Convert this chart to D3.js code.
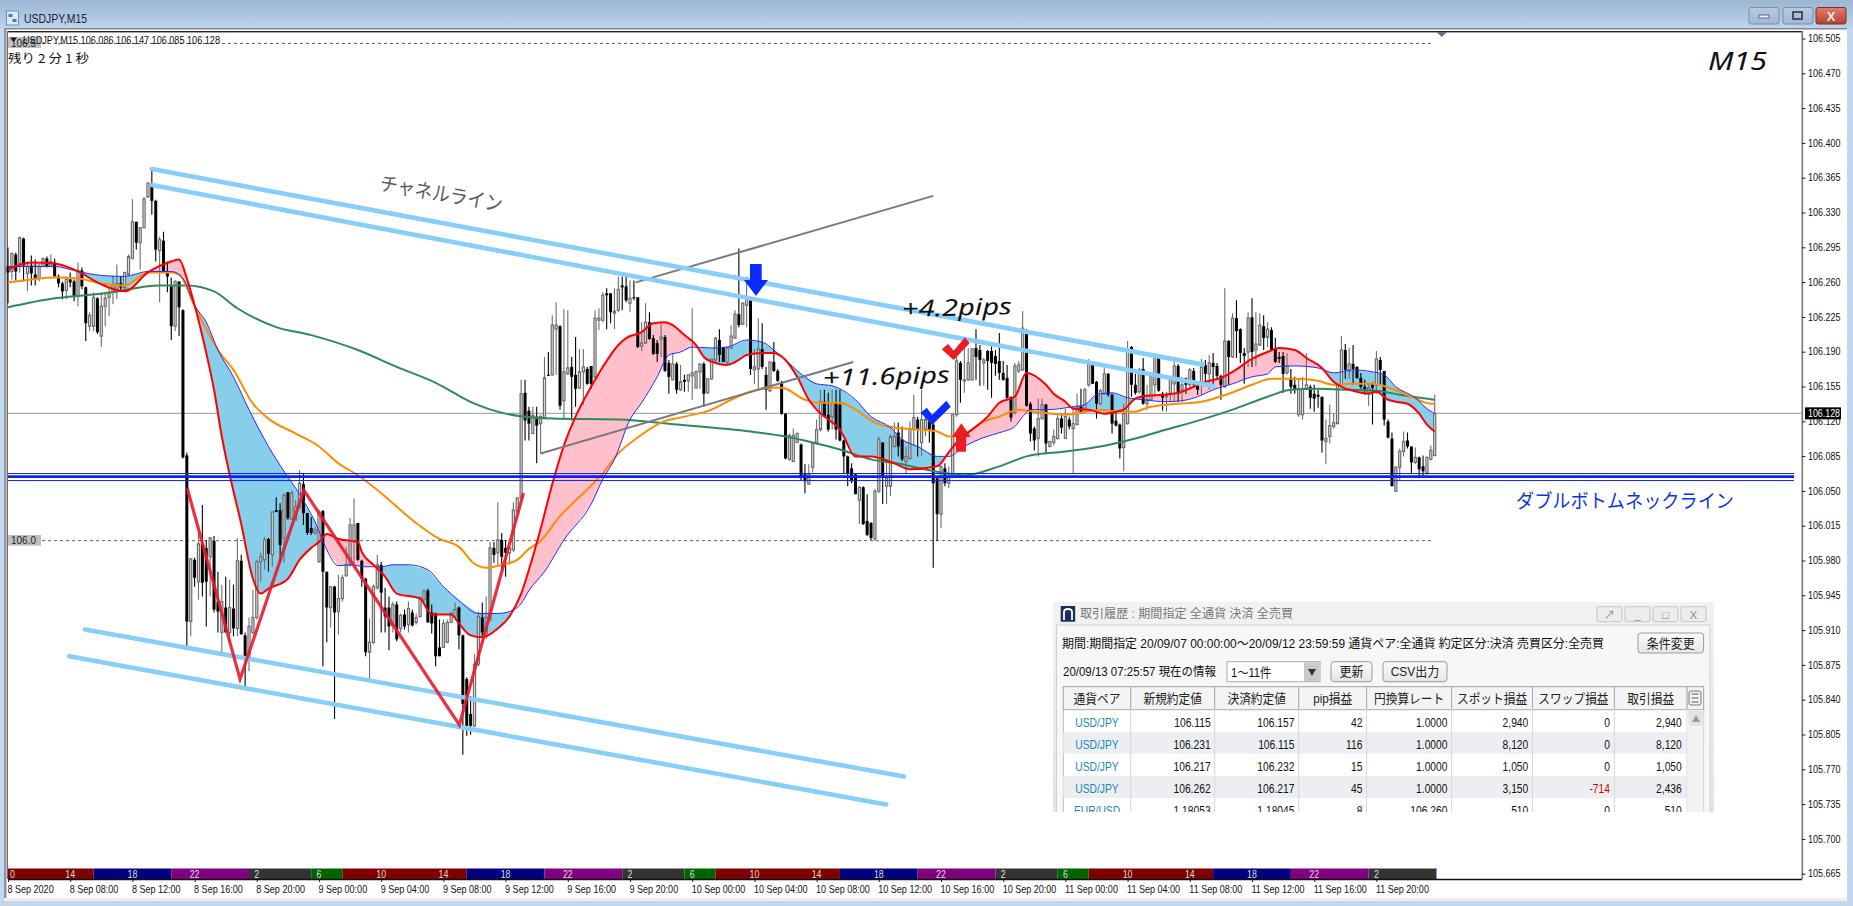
<!DOCTYPE html>
<html><head><meta charset="utf-8">
<script src="https://cdn.jsdelivr.net/npm/d3@7/dist/d3.min.js"></script>
<style>html,body{margin:0;padding:0;background:#fff;overflow:hidden}svg{display:block}text{font-family:"Liberation Sans","Noto Sans CJK JP",sans-serif}</style>
</head><body><svg id="c" width="1853" height="906"></svg>
<script>
// Candle values: thousandths of a yen above 106.000.
const opens=[274,269,286,277,302,267,275,266,262,274,
282,274,278,264,257,250,261,259,244,270,
253,214,214,242,204,234,243,248,251,257,
253,266,282,319,298,313,344,358,340,290,
300,268,254,214,259,230,84,-83,-21,-43,
-5,-9,-18,-2,-63,-94,-69,-94,-70,-90,
-22,-97,-121,-94,-79,-23,-21,0,-16,29,
29,1,47,20,19,32,55,26,11,6,
-23,28,-33,-69,-48,-73,-60,-37,-26,-3,
16,-22,-40,-114,-104,-49,-26,-69,-69,-87,
-66,-90,-76,-86,-74,-84,-78,-61,-52,-74,
-75,-109,-109,-104,-84,-78,-69,-97,-141,-176,
-188,-126,-79,-98,-81,-9,-14,-1,-9,-14,
-11,27,41,147,129,106,123,116,122,165,
165,211,214,139,166,173,165,152,168,171,
174,163,220,220,247,247,227,230,255,254,
237,243,243,194,197,218,202,197,201,203,
177,160,176,150,160,159,164,152,168,176,
147,161,180,200,193,178,192,202,226,216,
235,240,170,171,191,165,149,178,169,158,
126,80,78,97,95,65,55,72,97,110,
138,125,123,137,135,99,83,71,65,39,
52,18,16,0,48,97,53,53,93,107,
100,78,81,110,120,97,110,118,115,61,
25,71,56,63,125,177,160,160,160,192,
190,177,189,189,184,179,167,162,143,127,
169,170,210,136,111,101,121,135,93,97,
101,121,101,120,111,115,133,128,155,176,
158,136,146,166,145,119,115,92,116,193,
155,148,171,136,140,155,183,146,143,146,
156,174,150,162,155,169,155,155,175,166,
177,174,164,153,199,183,222,211,187,188,
223,190,195,214,203,210,191,183,184,167,
162,155,125,125,151,153,146,145,143,98,
103,113,116,155,190,169,176,173,162,153,
147,157,155,180,169,118,101,48,72,88,
99,93,77,82,73,67,80,84];
const highs=[293,288,288,304,303,279,285,281,277,283,
284,286,282,266,259,264,268,261,278,273,
254,228,248,243,248,248,253,265,276,264,
268,286,342,319,313,344,358,373,341,304,
309,279,263,260,259,231,87,-20,-19,11,
34,-1,2,3,-33,-46,-38,-41,-46,1,
-16,-94,-79,-51,-21,-14,2,1,28,42,
36,46,47,49,39,69,66,26,22,12,
29,29,-33,-48,-47,-36,-36,-8,21,41,
16,-21,-39,-80,-46,-16,-23,-49,-58,-63,
-63,-75,-71,-63,-71,-75,-58,-51,-50,-66,
-74,-81,-81,-81,-73,-64,-68,-96,-139,-158,
-116,-73,-64,-58,-3,-3,37,6,-1,-9,
37,42,160,160,133,133,133,125,183,188,
225,238,215,231,230,183,203,191,191,173,
174,230,232,248,252,247,252,264,264,264,
260,260,243,218,237,228,205,200,217,205,
180,187,178,175,165,165,232,170,176,178,
161,181,203,211,193,193,215,230,292,238,
264,241,191,222,217,173,178,198,171,159,
126,106,111,107,96,75,75,97,120,150,
150,147,150,150,150,100,84,76,66,53,
53,45,17,50,103,97,80,105,117,117,
113,93,118,145,123,150,123,123,123,63,
73,76,73,125,189,179,192,192,192,211,
195,182,190,197,190,207,179,175,143,177,
179,229,211,138,113,141,141,136,98,110,
126,126,131,123,133,146,151,152,181,176,
159,151,174,167,146,128,116,136,199,194,
166,172,182,155,168,184,183,148,148,163,
182,176,163,162,172,172,158,181,180,185,
187,177,165,252,200,227,240,212,192,228,
242,228,227,225,218,213,202,188,188,187,
171,163,161,163,187,155,155,150,143,120,
135,126,156,204,196,192,195,174,167,160,
156,157,189,183,169,120,107,73,91,108,
107,93,92,83,84,83,94,145];
const lows=[237,261,260,268,259,249,255,255,259,274,
273,274,264,253,241,241,253,239,234,251,
199,209,209,206,193,214,224,236,241,249,
249,265,282,291,271,313,343,326,279,238,
268,248,200,209,204,81,-111,-98,-48,-61,
-58,-88,-58,-74,-94,-114,-94,-104,-98,-98,
-96,-149,-133,-96,-81,-43,-31,-33,-28,27,
-24,-24,19,19,19,30,14,4,4,4,
-24,-128,-104,-89,-181,-96,-63,-38,-28,-26,
-22,-48,-118,-142,-106,-51,-94,-94,-112,-94,
-103,-94,-91,-94,-88,-86,-79,-63,-84,-95,
-128,-118,-109,-105,-84,-79,-111,-217,-198,-197,
-189,-128,-99,-101,-83,-24,-26,-31,-38,-26,
-13,26,40,99,99,106,76,86,122,164,
164,165,130,121,165,119,133,151,135,155,
151,161,210,218,211,217,211,228,230,238,
228,240,192,189,197,200,185,178,183,168,
146,160,146,149,148,148,140,151,151,133,
146,160,178,178,178,176,191,201,213,215,
213,165,156,150,171,130,148,168,158,125,
80,79,77,97,59,46,55,67,95,108,
122,108,110,100,98,65,53,56,45,15,
14,3,-1,-2,46,35,35,43,92,83,
78,66,80,93,83,83,103,97,-29,-2,
11,53,51,61,123,137,147,159,159,160,
154,154,150,142,164,160,159,140,118,125,
167,169,133,98,89,83,120,86,92,94,
100,106,101,110,66,115,126,127,153,156,
121,135,145,143,106,113,81,68,115,143,
145,146,135,130,140,143,148,129,128,138,
138,138,138,146,152,153,145,145,156,150,
152,160,140,152,155,182,182,177,156,173,
173,174,194,190,193,190,177,177,147,165,
146,146,123,120,150,131,128,132,87,75,
96,111,115,154,161,161,155,161,151,145,
134,115,146,155,114,101,53,47,59,83,
91,65,75,61,63,64,79,83];
const closes=[268,287,269,303,275,274,267,261,274,282,
274,279,264,257,249,261,258,244,270,254,
217,225,243,208,234,242,248,255,257,253,
268,284,319,298,313,342,358,340,291,301,
268,264,214,259,233,82,-83,-20,-39,-5,
-44,-43,1,-71,-73,-63,-94,-69,-90,-22,
-96,-121,-88,-79,-23,-18,-1,-15,27,27,
-6,44,21,46,32,56,26,6,6,9,
27,-33,-69,-48,-74,-60,-39,-26,14,14,
-21,-40,-114,-104,-48,-26,-54,-78,-88,-66,
-101,-77,-88,-70,-87,-79,-59,-52,-84,-85,
-118,-118,-85,-84,-75,-71,-97,-166,-188,-188,
-126,-78,-94,-79,-9,-16,-1,-18,-14,-9,
29,41,146,119,116,124,114,123,162,164,
215,215,134,168,172,163,151,168,173,156,
156,222,222,245,245,228,229,251,253,240,
242,242,193,197,218,201,186,186,203,169,
163,176,150,158,158,165,167,168,176,146,
161,181,202,185,178,192,204,226,215,237,
243,171,173,191,173,150,178,169,159,126,
81,104,104,106,62,58,65,96,110,138,
123,110,137,110,99,83,66,58,45,52,
15,4,1,48,100,63,61,103,103,93,
80,83,110,122,110,120,120,110,56,25,
73,56,63,125,179,160,160,177,191,183,
180,180,179,177,176,167,160,142,122,174,
175,212,134,106,99,121,135,96,98,103,
121,112,123,113,116,133,127,150,176,156,
136,149,166,145,116,114,91,126,188,155,
147,170,136,140,166,183,149,142,145,162,
174,146,155,155,170,155,150,173,166,177,
173,164,155,199,183,222,209,187,184,222,
188,196,215,202,211,190,178,181,166,174,
153,150,151,151,155,142,141,143,99,101,
114,117,155,190,170,176,171,162,153,150,
152,152,181,170,120,102,53,72,88,98,
93,77,82,70,68,82,89,126];

// Indicator lines, read at the bars where they were legible.
const redBars=[0,6,12,18,24,30,36,42,44,46,48,51,53,55,57,60,63,65,67,72,75,78,80,82,85,90,91,94,97,100,106,109,114,116,119,122,126,129,132,134,137,140,143,146,150,153,157,159,163,166,169,171,174,177,179,182,185,188,190,194,197,200,203,206,208,211,214,215,218,222,228,232,239,242,244,248,252,255,259,262,267,269,272,274,278,282,285,287,290,293,297,301,305,308,312,315,320,324,327,331,334,338,341,343,346,350,352,355,357,360,363,365,367];
const redVals=[271,278,277,269,256,249,268,279,281,262,235,187,150,103,65,15,-40,-55,-50,-40,-21,-9,-3,5,0,-3,-13,-26,-38,-55,-60,-76,-76,-85,-97,-99,-90,-78,-55,-31,10,55,94,123,153,173,195,202,208,217,218,215,205,195,183,177,175,180,185,187,187,180,163,140,130,120,110,103,83,83,76,70,73,87,97,110,123,137,143,167,155,146,138,131,130,126,128,130,141,144,145,147,153,158,162,168,181,188,192,190,182,172,158,153,149,146,148,140,138,136,126,115,108];
const blueBars=[0,6,12,18,24,30,36,42,45,48,51,54,58,62,67,71,75,79,82,85,88,92,96,99,103,108,112,116,121,126,129,132,134,138,143,150,153,156,160,163,167,170,173,176,181,185,190,194,197,200,204,208,212,214,218,222,227,230,234,239,242,246,251,256,259,261,263,267,274,277,280,284,288,292,298,302,306,310,315,320,324,326,331,337,341,346,351,354,357,362,365,367];
const blueVals=[274,274,274,269,265,264,269,269,262,235,218,190,163,130,93,68,45,17,-11,-27,-26,-28,-28,-26,-26,-31,-48,-62,-75,-75,-73,-65,-52,-33,-1,35,60,80,120,137,163,185,188,193,192,193,200,198,190,180,166,156,154,151,140,123,112,100,93,83,83,93,102,108,113,123,130,130,133,135,145,147,142,140,138,139,143,150,156,163,166,173,174,172,167,170,168,165,153,142,131,126];
const orangeBars=[0,6,12,18,24,30,36,42,44,48,51,54,58,63,67,74,80,85,90,96,104,111,116,120,123,127,131,134,137,142,148,153,157,162,168,174,181,186,191,196,199,205,208,214,218,223,228,234,239,242,248,251,255,260,264,272,281,286,290,293,298,307,314,320,325,331,337,341,345,351,356,361,366,367];
const orangeVals=[258,261,263,262,257,255,268,268,266,234,211,190,170,136,121,106,93,76,64,46,19,0,-8,-25,-29,-26,-21,-10,-2,23,46,66,86,102,117,123,130,140,148,152,152,140,137,137,130,117,112,110,108,103,110,118,123,130,128,125,130,128,128,132,135,138,146,155,161,161,159,155,156,156,151,143,136,136];
const greenBars=[0,12,25,39,46,53,59,69,78,90,100,110,120,128,140,157,172,191,200,207,214,222,230,237,246,255,262,272,281,290,298,307,315,324,330,337,345,352,358,367];
const greenVals=[233,242,247,255,255,249,232,213,205,190,173,157,136,126,121,120,115,108,103,97,90,80,75,69,64,73,83,88,93,101,110,120,130,143,150,151,150,149,145,140];

// Drawn objects: [bar, value, bar, value]
const channelLines=[[37,372,307.4,175.3],[37,356,310,153.7],[19.8,-91,230.5,-239],[15.7,-118,225.9,-267]];
const grayLines=[[137,86,217.4,178],[161.5,258,238,345]];
const zigBars=[46.1,59.7,76.1,116.1,132.6];
const zigVals=[51,-141,49,-187,46];
const neckPrices=[106.0675,106.0644,106.0604];
const currentPrice=106.128;
const gridPrices=[106.5,106.0];

const yTicks=d3.range(25).map(k=>+(106.505-0.035*k).toFixed(3));
const timeLabels=["8 Sep 2020","8 Sep 08:00","8 Sep 12:00","8 Sep 16:00","8 Sep 20:00","9 Sep 00:00","9 Sep 04:00","9 Sep 08:00","9 Sep 12:00","9 Sep 16:00","9 Sep 20:00","10 Sep 00:00","10 Sep 04:00","10 Sep 08:00","10 Sep 12:00","10 Sep 16:00","10 Sep 20:00","11 Sep 00:00","11 Sep 04:00","11 Sep 08:00","11 Sep 12:00","11 Sep 16:00","11 Sep 20:00"];
const sessionLabels=["0","14","18","22","2","6","10","14","18","22","2","6","10","14","18","22","2","6","10","14","18","22","2"];
const sessionEnds=[22,42,62,78,86,118,138,158,174,182,214,234,254,270,278,310,330,350,367.4];
const sessionColors=["#7f0000","#000080","#800080","#333333","#006400"];

const pairs=["USD/JPY","USD/JPY","USD/JPY","USD/JPY","EUR/USD"];
const entryRates=["106.115","106.231","106.217","106.262","1.18053"];
const exitRates=["106.157","106.115","106.232","106.217","1.18045"];
const pipPnl=["42","116","15","45","8"];
const jpyRates=["1.0000","1.0000","1.0000","1.0000","106.260"];
const spotPnl=["2,940","8,120","1,050","3,150","510"];
const swapPnl=["0","0","0","-714","0"];
const tradePnl=["2,940","8,120","1,050","2,436","510"];
const tableHeads=["通貨ペア","新規約定値","決済約定値","pip損益","円換算レート","スポット損益","スワップ損益","取引損益"];

const toPrice=v=>106+(v+1.7)/1000;
const svg=d3.select("#c");
const x=d3.scaleLinear().domain([0,1]).range([8,11.8875]);
const y=d3.scaleLinear().domain([106.505,105.665]).range([38.5,873.7]);
const px=i=>x(i), py=v=>y(toPrice(v));

function T(g,xp,yp,s,o={}){
  const t=g.append("text").attr("x",xp).attr("y",yp).text(s)
    .attr("font-size",o.size||12).attr("fill",o.fill||"#111").attr("text-anchor",o.anchor||"start");
  if(o.family)t.style("font-family",o.family);
  if(o.italic)t.attr("font-style","italic");
  if(o.weight)t.attr("font-weight",o.weight);
  if(o.rot)t.attr("transform",`rotate(${o.rot} ${xp} ${yp})`);
  if(o.len)t.attr("textLength",o.len).attr("lengthAdjust","spacingAndGlyphs");
  if(o.sx){const n=t.node();t.attr("textLength",n.getComputedTextLength()*o.sx).attr("lengthAdjust","spacingAndGlyphs");}
  return t;
}
const defs=svg.append("defs");
function grad(id,a,b){const g=defs.append("linearGradient").attr("id",id).attr("x1",0).attr("y1",0).attr("x2",0).attr("y2",1);
  g.append("stop").attr("offset",0).attr("stop-color",a);g.append("stop").attr("offset",1).attr("stop-color",b);}
grad("gTitle","#9cb6d3","#bcd4ec");grad("gBtn","#b7cbe2","#9db8d6");grad("gClose","#d9806c","#b8402f");
grad("gPanel","#f2f2f2","#e4e4e4");grad("gPb","#fbfbfb","#e6e6e6");

// window frame
svg.append("rect").attr("width",1853).attr("height",906).attr("fill","#c3d7ee");
svg.append("rect").attr("width",1853).attr("height",28).attr("fill","url(#gTitle)");
svg.append("rect").attr("x",4).attr("y",28).attr("width",1843).attr("height",873).attr("fill","#fff");
svg.append("rect").attr("x",4).attr("y",28).attr("width",1843).attr("height",1.5).attr("fill","#888");
svg.append("rect").attr("x",4).attr("y",28).attr("width",2.5).attr("height",872).attr("fill","#8f9499");
svg.append("rect").attr("x",4).attr("y",898).attr("width",1843).attr("height",3).attr("fill","#efefef");
svg.append("rect").attr("x",7).attr("y",31).attr("width",1795).attr("height",1.4).attr("fill","#222");
svg.append("rect").attr("x",1801.5).attr("y",31).attr("width",1.6).attr("height",848).attr("fill","#777");
svg.append("rect").attr("x",7).attr("y",31).attr("width",1).attr("height",848).attr("fill","#666");
// title icon, caption and window buttons
const ic=svg.append("g");
ic.append("rect").attr("x",6.5).attr("y",11).attr("width",12).attr("height",14).attr("fill","#dfeaf6").attr("stroke","#6c8fb5");
ic.append("rect").attr("x",8.5).attr("y",14).attr("width",4).attr("height",3).attr("fill","#4c78b0");
ic.append("rect").attr("x",12.5).attr("y",19).attr("width",4).attr("height",3).attr("fill","#4c78b0");
T(svg,24,23,"USDJPY,M15",{size:13,fill:"#223",len:63});
[[1749,"gBtn"],[1783,"gBtn"],[1816,"gClose"]].forEach(([bx,f],i)=>{
  svg.append("rect").attr("x",bx).attr("y",7.5).attr("width",30).attr("height",16.5).attr("rx",2).attr("fill",`url(#${f})`).attr("stroke",i==2?"#7d3025":"#7c8fa6");
});
svg.append("rect").attr("x",1759).attr("y",15).attr("width",10).attr("height",3).attr("fill","#eef").attr("stroke","#667");
svg.append("rect").attr("x",1793).attr("y",12).attr("width",9).attr("height",7).attr("fill","none").attr("stroke","#334",).attr("stroke-width",1.6);
T(svg,1831,21,"X",{size:13,fill:"#eee",anchor:"middle",weight:"bold"});

// reference lines behind the candles
svg.append("g").selectAll("line").data(gridPrices).join("line")
  .attr("x1",42).attr("x2",1433).attr("y1",d=>y(d)).attr("y2",d=>y(d))
  .attr("stroke","#666").attr("stroke-dasharray","3,3").attr("stroke-width",1);
svg.append("line").attr("x1",8).attr("x2",1802).attr("y1",y(currentPrice)).attr("y2",y(currentPrice)).attr("stroke","#a4abb2").attr("stroke-width",1.2);

// cloud between red and blue
const redPts=redBars.map((b,i)=>[px(b),py(redVals[i])]);
const bluePts=blueBars.map((b,i)=>[px(b),py(blueVals[i])]);
const curve=d3.line().curve(d3.curveMonotoneX);
const cloud=d3.line()(redPts)+"L"+d3.line()(bluePts.slice().reverse()).slice(1)+"Z";
defs.append("clipPath").attr("id","aboveBlue").append("path")
  .attr("d",d3.area().x(d=>d[0]).y0(0).y1(d=>d[1])(bluePts));
defs.append("clipPath").attr("id","belowBlue").append("path")
  .attr("d",d3.area().x(d=>d[0]).y0(900).y1(d=>d[1])(bluePts));
svg.append("path").attr("d",cloud).attr("fill","#ffc0cb").attr("clip-path","url(#aboveBlue)");
svg.append("path").attr("d",cloud).attr("fill","#87ceeb").attr("clip-path","url(#belowBlue)");

// candles
const idx=d3.range(opens.length);
const isUp=i=>closes[i]>=opens[i];
svg.append("g").selectAll("line").data(idx).join("line")
  .attr("x1",px).attr("x2",px).attr("y1",i=>py(highs[i])).attr("y2",i=>py(lows[i]))
  .attr("stroke",i=>isUp(i)?"#6e6e6e":"#000").attr("stroke-width",1.1);
svg.append("g").selectAll("rect").data(idx).join("rect")
  .attr("x",i=>px(i)-(isUp(i)?1.05:1.5)).attr("width",i=>isUp(i)?2.1:3)
  .attr("y",i=>py(Math.max(opens[i],closes[i])))
  .attr("height",i=>Math.max(1,Math.abs(py(opens[i])-py(closes[i]))))
  .attr("fill",i=>isUp(i)?"#e6e6e6":"#000").attr("stroke",i=>isUp(i)?"#6e6e6e":"none").attr("stroke-width",1.2);

// indicator lines
[[greenBars,greenVals,"#2e8b57",2],[orangeBars,orangeVals,"#ff8c00",2],[blueBars,blueVals,"#2a2aff",1],[redBars,redVals,"#f00",2]].forEach(([b,v,c,w])=>{
  svg.append("path").attr("d",curve(b.map((k,i)=>[px(k),py(v[i])]))).attr("fill","none").attr("stroke",c).attr("stroke-width",w);
});

// drawn trend objects
svg.append("g").selectAll("line").data(grayLines).join("line")
  .attr("x1",d=>px(d[0])).attr("y1",d=>py(d[1])).attr("x2",d=>px(d[2])).attr("y2",d=>py(d[3]))
  .attr("stroke","#7a7a7a").attr("stroke-width",2);
svg.append("g").selectAll("line").data(channelLines).join("line")
  .attr("x1",d=>px(d[0])).attr("y1",d=>py(d[1])).attr("x2",d=>px(d[2])).attr("y2",d=>py(d[3]))
  .attr("stroke","#87cefa").attr("stroke-width",4.6).attr("stroke-linecap","round");
svg.append("g").selectAll("line").data(neckPrices).join("line")
  .attr("x1",8).attr("x2",1794).attr("y1",d=>y(d)).attr("y2",d=>y(d))
  .attr("stroke","#0a24ee").attr("stroke-width",(d,i)=>i==1?2.8:1);
svg.append("path").attr("d",d3.line()(zigBars.map((b,i)=>[px(b),py(zigVals[i])])))
  .attr("fill","none").attr("stroke","#e8192c").attr("stroke-opacity",.9).attr("stroke-width",3.2).attr("stroke-linejoin","miter");

// arrows and check marks
const shape=(pts,c)=>svg.append("path").attr("d",d3.line()(pts)+"Z").attr("fill",c);
shape([[750,264],[761.7,264],[761.7,280],[768,280],[756,296],[744,280],[750,280]],"#0a2bff");
shape([[956,451.7],[966,451.7],[966,437],[970.7,437],[961.4,423.3],[951.8,437],[956,437]],"#ed1c24");
shape([[920.7,412.7],[926.8,407.7],[932,415],[946.4,400.7],[950.7,406.7],[932,425]],"#0a2bff");
shape([[941.8,349.3],[948.2,344],[953.6,350.7],[965,337.3],[969.6,343.3],[953.6,360]],"#ed1c24");

// session bar
const sess=svg.append("g");
sessionEnds.forEach((e,i)=>{
  const s=i?sessionEnds[i-1]:0;
  sess.append("rect").attr("x",px(s)).attr("y",868.5).attr("width",px(e)-px(s)).attr("height",10.5)
    .attr("fill",sessionColors[i==0?0:(i-0)%5]);
});
sess.append("rect").attr("x",1436).attr("y",868.5).attr("width",1).attr("height",10.5).attr("fill","#6f9fd8");
sessionLabels.forEach((s,k)=>T(sess,k?px(16*k):10,877.5,s,{size:10,fill:"#ddd",anchor:k?"middle":"start",sx:.88}));

// axes
const axB=svg.append("g").attr("transform","translate(0,879)")
  .call(d3.axisBottom(x).tickValues(d3.range(23).map(k=>16*k)).tickFormat((d,i)=>timeLabels[i]).tickSize(3).tickPadding(3));
axB.select(".domain").attr("d","M8,0.5H1802").attr("stroke","#111").attr("stroke-width",1.3);
axB.selectAll(".tick line").attr("stroke","#222");
axB.selectAll("text").attr("text-anchor","start").attr("dx",-1).attr("font-size",11).attr("fill","#111").style("font-family",'"Liberation Sans"')
  .each(function(){this.setAttribute("textLength",this.getComputedTextLength()*.82);this.setAttribute("lengthAdjust","spacingAndGlyphs");});
const axR=svg.append("g").attr("transform","translate(1802,0)")
  .call(d3.axisRight(y).tickValues(yTicks).tickFormat(d3.format(".3f")).tickSize(3.5).tickPadding(2.5));
axR.select(".domain").remove();
axR.selectAll(".tick line").attr("stroke","#222");
axR.selectAll("text").attr("font-size",10).attr("fill","#111").style("font-family",'"Liberation Sans"')
  .each(function(){this.setAttribute("textLength",this.getComputedTextLength()*.9);this.setAttribute("lengthAdjust","spacingAndGlyphs");});
svg.append("rect").attr("x",1805).attr("y",y(currentPrice)-6).attr("width",36).attr("height",12).attr("fill","#000");
T(svg,1808,y(currentPrice)+3.6,currentPrice.toFixed(3),{size:10,fill:"#fff",len:32});

// price tags and header text
svg.append("path").attr("d","M1436.5,32H1447L1441.7,37Z").attr("fill","#5f7285");
svg.append("rect").attr("x",8).attr("y",37).attr("width",33).attr("height",11).attr("fill","#c0c0c0");
T(svg,11,47,"106.5",{size:11,fill:"#222",len:25});
svg.append("path").attr("d","M10,37.5H17L13.5,42Z").attr("fill","#111");
T(svg,23,44,"USDJPY,M15  106.086 106.147 106.085 106.128",{size:10.5,fill:"#111",len:197});
T(svg,8,63,"残り 2 分 1 秒",{size:12,fill:"#111",len:81,family:'"Noto Sans CJK JP"'});
svg.append("rect").attr("x",8).attr("y",535).attr("width",33).attr("height",10.7).attr("fill","#c0c0c0");
T(svg,11,544,"106.0",{size:11,fill:"#222",len:25});

// chart captions
const hand='"Noto Sans"';
T(svg,1708,70,"M15",{size:25,fill:"#111",len:59,family:hand,italic:true});
T(svg,379,190,"チャネルライン",{size:20,fill:"#5a5a5a",len:124,rot:10,family:'"Noto Sans CJK JP"'});
T(svg,1516,508,"ダブルボトムネックライン",{size:19,fill:"#0b33e6",len:218,family:'"Noto Sans CJK JP"'});
T(svg,902,317,"+4.2pips",{size:23,fill:"#111",len:110,rot:-1.5,family:hand,italic:true});
T(svg,823,386,"+11.6pips",{size:23,fill:"#111",len:127,rot:-1.5,family:hand,italic:true});

// trade history panel
const jp='"Liberation Sans","Noto Sans CJK JP"';
defs.append("clipPath").attr("id","panelClip").append("rect").attr("x",1053).attr("y",602).attr("width",661).attr("height",210);
const P=svg.append("g").attr("clip-path","url(#panelClip)");
P.append("rect").attr("x",1053).attr("y",602).attr("width",661).attr("height",215).attr("fill","url(#gPanel)");
P.append("rect").attr("x",1056.5).attr("y",625).attr("width",653.5).attr("height",190).attr("fill","#f7f7f7").attr("stroke","#cfcfcf");
P.append("rect").attr("x",1060.7).attr("y",606).attr("width",14.5).attr("height",15.7).attr("fill","#19305a");
P.append("path").attr("d","M1064,620V612Q1064,609 1068,609Q1072,609 1072,612V620").attr("fill","none").attr("stroke","#fff").attr("stroke-width",1.8);
T(P,1080,617.5,"取引履歴 : 期間指定 全通貨 決済 全売買",{size:12.5,fill:"#777",len:213,family:jp});
[1597,1625,1653,1681].forEach((bx,i)=>{
  P.append("rect").attr("x",bx).attr("y",606.7).attr("width",25).attr("height",15).attr("rx",1.5).attr("fill","#ececec").attr("stroke","#c4c4c4");
  T(P,bx+12.5,618.5,["↗","_","□","X"][i],{size:11,fill:"#888",anchor:"middle"});
});
T(P,1062,647.5,"期間:期間指定  20/09/07 00:00:00～20/09/12 23:59:59  通貨ペア:全通貨  約定区分:決済  売買区分:全売買",{size:12.5,fill:"#111",len:542,family:jp});
const btn=(bx,by,w,h,s,fs=13)=>{
  P.append("rect").attr("x",bx).attr("y",by).attr("width",w).attr("height",h).attr("rx",3).attr("fill","url(#gPb)").attr("stroke","#9a9a9a");
  T(P,bx+w/2,by+h/2+4.5,s,{size:fs,fill:"#222",anchor:"middle",family:jp,sx:.92});
};
btn(1638,633,65.6,20,"条件変更");
T(P,1063,676,"20/09/13 07:25:57 現在の情報",{size:12.5,fill:"#111",len:153,family:jp});
P.append("rect").attr("x",1227).attr("y",661.7).attr("width",93).attr("height",20).attr("fill","#fff").attr("stroke","#aaa");
P.append("rect").attr("x",1304).attr("y",662.2).attr("width",15.5).attr("height",19).attr("fill","#c9c9c9");
P.append("path").attr("d","M1308,669H1316L1312,676Z").attr("fill","#333");
T(P,1231,676.5,"1～11件",{size:13,fill:"#111",family:jp,sx:.86});
btn(1331,661.7,41,20,"更新");
btn(1383,661.7,64,20,"CSV出力");
// table
const colEdges=[1063.3,1130.7,1214.7,1298.7,1366.6,1451.6,1532.5,1614.4,1687,1703.6];
P.append("rect").attr("x",colEdges[0]).attr("y",686.7).attr("width",640.3).attr("height",140).attr("fill","#fff").attr("stroke","#bbb");
P.append("rect").attr("x",colEdges[0]).attr("y",686.7).attr("width",640.3).attr("height",23).attr("fill","#f4f4f4").attr("stroke","#aaa");
[1,3].forEach(r=>P.append("rect").attr("x",colEdges[0]).attr("y",710+22*r).attr("width",623.7).attr("height",22).attr("fill","#eceef2"));
colEdges.slice(1,9).forEach((e,i)=>P.append("line").attr("x1",e).attr("x2",e).attr("y1",687).attr("y2",812).attr("stroke","#d8d8d8"));
colEdges.slice(1,9).forEach(e=>P.append("line").attr("x1",e).attr("x2",e).attr("y1",687).attr("y2",709).attr("stroke","#aaa"));
tableHeads.forEach((h,i)=>T(P,(colEdges[i]+colEdges[i+1])/2,702.5,h,{size:13,fill:"#222",anchor:"middle",family:jp,sx:.9}));
P.append("rect").attr("x",1689).attr("y",691).attr("width",12).attr("height",14).attr("rx",2).attr("fill","#f4f4f4").attr("stroke","#777");
[694,698,702].forEach(v=>P.append("line").attr("x1",1691.5).attr("x2",1698.5).attr("y1",v).attr("y2",v).attr("stroke","#555"));
P.append("rect").attr("x",1687.5).attr("y",710).attr("width",16).attr("height",102).attr("fill","#f2f2f2");
P.append("rect").attr("x",1688.5).attr("y",711).attr("width",14).attr("height",15).attr("fill","#e3e3e3");
P.append("path").attr("d","M1692,722H1700L1696,715Z").attr("fill","#999");
const rights=[1210.6,1294.5,1362.4,1447.5,1528.3,1610,1681.8];
const cols=[entryRates,exitRates,pipPnl,jpyRates,spotPnl,swapPnl,tradePnl];
pairs.forEach((p,r)=>{
  const by=726.5+22*r;
  T(P,(colEdges[0]+colEdges[1])/2,by,p,{size:13,fill:"#1b88b2",anchor:"middle",sx:.79});
  cols.forEach((c,j)=>T(P,rights[j],by,c[r],{size:13,fill:c[r][0]=="-"?"#c00":"#111",anchor:"end",sx:.79}));
});
</script></body></html>
